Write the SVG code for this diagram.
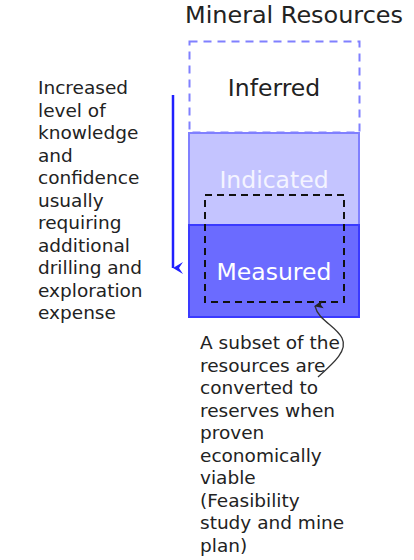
<svg xmlns="http://www.w3.org/2000/svg" width="414" height="560" viewBox="0 0 414 560">
  <defs>
    <style>
      text { font-family: "DejaVu Sans", "Liberation Sans", sans-serif; fill: #222; }
      .title { font-size: 23px; }
      .lbl { font-size: 23.5px; text-anchor: middle; }
      .note { font-size: 18.5px; }
    </style>
    <marker id="blueHead" markerWidth="14" markerHeight="14" refX="6" refY="12" orient="auto" markerUnits="userSpaceOnUse">
      <path d="M0,2 L6,12 L12,2 L6,6 Z" fill="#2020ff"/>
    </marker>
    <marker id="blackHead" markerWidth="10" markerHeight="10" refX="5" refY="1" orient="auto-start-reverse" markerUnits="userSpaceOnUse">
      <path d="M5,0 L9,9 L5,7 L1,9 Z" fill="#222"/>
    </marker>
  </defs>

  <text class="title" x="185" y="23" textLength="218" lengthAdjust="spacingAndGlyphs">Mineral Resources</text>

  <g id="inferred">
    <rect x="189.5" y="41.5" width="170" height="91" fill="#fff" stroke="#8080ff" stroke-width="2" stroke-dasharray="8,6"/>
    <text class="lbl" x="274" y="96">Inferred</text>
  </g>

  <g id="indicated">
    <rect x="189" y="133" width="170" height="92" fill="#c4c4ff" stroke="#8080ff" stroke-width="2"/>
    <text class="lbl" x="274" y="188" style="fill:#f4f4ff">Indicated</text>
  </g>

  <g id="measured">
    <rect x="189" y="225" width="170" height="92" fill="#6b6bff" stroke="#3a3aff" stroke-width="2"/>
    <text class="lbl" x="274" y="280" style="fill:#fff">Measured</text>
  </g>

  <g id="reserves-subset">
    <rect x="205" y="195" width="139" height="107" fill="none" stroke="#111" stroke-width="2" stroke-dasharray="7,5"/>
  </g>

  <g id="connectors">
    <line x1="173" y1="95" x2="173" y2="268" stroke="#2020ff" stroke-width="2.5" marker-end="url(#blueHead)"/>
    <path d="M318,377 C335,362 348,350 342,338 C336,326 318,320 315,306" fill="none" stroke="#333" stroke-width="1.3" marker-end="url(#blackHead)"/>
  </g>

  <g id="knowledge-note">
    <text class="note" x="38">
      <tspan x="38" y="94">Increased</tspan>
      <tspan x="38" y="116.5">level of</tspan>
      <tspan x="38" y="139">knowledge</tspan>
      <tspan x="38" y="161.5">and</tspan>
      <tspan x="38" y="184">confidence</tspan>
      <tspan x="38" y="206.5">usually</tspan>
      <tspan x="38" y="229">requiring</tspan>
      <tspan x="38" y="251.5">additional</tspan>
      <tspan x="38" y="274">drilling and</tspan>
      <tspan x="38" y="296.5">exploration</tspan>
      <tspan x="38" y="319">expense</tspan>
    </text>
  </g>

  <g id="reserves-note">
    <text class="note" x="200">
      <tspan x="200" y="349">A subset of the</tspan>
      <tspan x="200" y="371.5">resources are</tspan>
      <tspan x="200" y="394">converted to</tspan>
      <tspan x="200" y="416.5">reserves when</tspan>
      <tspan x="200" y="439">proven</tspan>
      <tspan x="200" y="461.5">economically</tspan>
      <tspan x="200" y="484">viable</tspan>
      <tspan x="200" y="506.5">(Feasibility</tspan>
      <tspan x="200" y="529">study and mine</tspan>
      <tspan x="200" y="551.5">plan)</tspan>
    </text>
  </g>
</svg>
